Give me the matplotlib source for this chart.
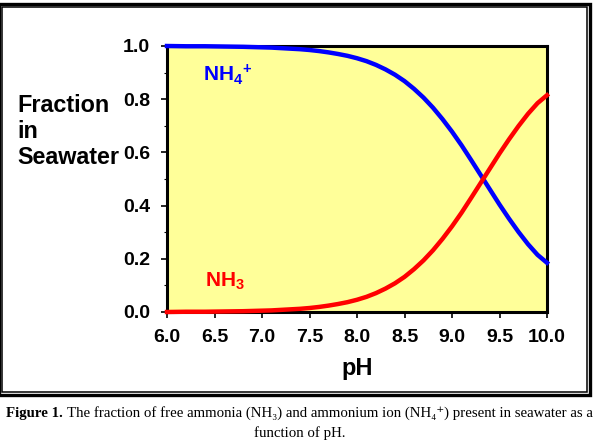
import matplotlib
matplotlib.use("Agg")
import matplotlib.pyplot as plt
from matplotlib.patches import Rectangle
from matplotlib.ticker import MultipleLocator

# values
ph = [6.0, 6.2, 6.4, 6.6, 6.8, 7.0, 7.1, 7.2, 7.3, 7.4, 7.5, 7.6, 7.7, 7.8, 7.9,
      8.0, 8.1, 8.2, 8.3, 8.4, 8.5, 8.6, 8.7, 8.8, 8.9, 9.0, 9.1, 9.2, 9.3, 9.4,
      9.5, 9.6, 9.7, 9.8, 9.9, 10.0]
nh3 = [0.000, 0.001, 0.001, 0.002, 0.003, 0.005, 0.006, 0.008, 0.010, 0.012,
       0.015, 0.019, 0.024, 0.030, 0.037, 0.046, 0.057, 0.071, 0.088, 0.108,
       0.132, 0.161, 0.194, 0.232, 0.275, 0.322, 0.373, 0.428, 0.484, 0.540,
       0.596, 0.649, 0.699, 0.745, 0.785, 0.815]
nh4 = [1.000, 0.999, 0.999, 0.998, 0.997, 0.995, 0.994, 0.992, 0.990, 0.988,
       0.985, 0.981, 0.976, 0.970, 0.963, 0.954, 0.943, 0.929, 0.912, 0.892,
       0.868, 0.839, 0.806, 0.768, 0.725, 0.678, 0.627, 0.572, 0.516, 0.460,
       0.404, 0.351, 0.301, 0.255, 0.215, 0.185]
xticks = [6.0, 6.5, 7.0, 7.5, 8.0, 8.5, 9.0, 9.5, 10.0]
yticks = [0.0, 0.2, 0.4, 0.6, 0.8, 1.0]

plt.rcParams['font.family'] = ['Liberation Sans', 'DejaVu Sans']
plt.rcParams['mathtext.fontset'] = 'custom'
plt.rcParams['mathtext.rm'] = 'Liberation Sans:bold'
plt.rcParams['mathtext.bf'] = 'Liberation Sans:bold'
plt.rcParams['mathtext.default'] = 'bf'

W, H = 599, 443
fig = plt.figure(figsize=(W / 100, H / 100), dpi=100)

# double frame around the chart
fig.patches.append(Rectangle((-1 / W, 1 - 395 / H), 591 / W, 391.2 / H,
                             transform=fig.transFigure, fill=False,
                             edgecolor='black', linewidth=2.4))
fig.patches.append(Rectangle((1.8 / W, 1 - 392 / H), 585.2 / W, 384.7 / H,
                             transform=fig.transFigure, fill=False,
                             edgecolor='black', linewidth=1.1))

ax = fig.add_axes([167 / W, 1 - 312 / H, 380 / W, 266 / H])
ax.set_facecolor('#FFFF99')
ax.plot(ph, nh4, color='#0000FF', linewidth=3.2, clip_on=False, zorder=5)
ax.plot(ph, nh3, color='#FF0000', linewidth=3.2, clip_on=False, zorder=5)
ax.set_xlim(6, 10)
ax.set_ylim(0, 1)

for s in ax.spines.values():
    s.set_linewidth(2.2)

ax.set_xticks(xticks)
ax.set_xticklabels(['%.1f' % v for v in xticks])
ax.set_yticks(yticks)
ax.set_yticklabels(['%.1f' % v for v in yticks])
ax.yaxis.set_minor_locator(MultipleLocator(0.1))
ax.tick_params(axis='both', which='major', labelsize=14, length=4, width=1.2,
               direction='out')
ax.tick_params(axis='y', which='major', pad=8)
ax.tick_params(axis='x', which='major', pad=8)
ax.tick_params(axis='y', which='minor', length=2, width=0.8, direction='out')
for lab in ax.get_xticklabels() + ax.get_yticklabels():
    lab.set_fontweight('bold')

ax.set_xlabel('pH', fontsize=17, fontweight='bold', labelpad=8)

for txt, yy in [('Fraction', 106), ('in', 132), ('Seawater', 158)]:
    fig.text(17 / W, 1 - yy / H, txt, fontsize=16.8, fontweight='bold',
             ha='left', va='center')

ax.text(6.38, 0.893, r'NH$_{4}{}^{+}$', color='#0000FF', fontsize=15,
        fontweight='bold', ha='left', va='center')
ax.text(6.40, 0.117, r'NH$_3$', color='#FF0000', fontsize=15,
        fontweight='bold', ha='left', va='center')

# caption: bold lead-in followed by regular text, centred as one line
serif = ['Liberation Serif', 'DejaVu Serif']
cap_bold = 'Figure 1. '
cap_rest = ('The fraction of free ammonia (NH\u2083) and ammonium ion '
            '(NH\u2084\u207a) present in seawater as a')
t1 = fig.text(0, 1 - 413 / H, cap_bold, fontsize=10.7, family=serif,
              fontweight='bold', ha='left', va='center')
t2 = fig.text(0, 1 - 413 / H, cap_rest, fontsize=10.7, family=serif,
              ha='left', va='center')
r = fig.canvas.get_renderer()
w1 = t1.get_window_extent(r).width
w2 = t2.get_window_extent(r).width
x0 = (W - w1 - w2) / 2
t1.set_x(x0 / W)
t2.set_x((x0 + w1) / W)
fig.text(0.5, 1 - 433 / H, 'function of pH.', fontsize=10.7, family=serif,
         ha='center', va='center')

fig.savefig('out.png', dpi=100)
